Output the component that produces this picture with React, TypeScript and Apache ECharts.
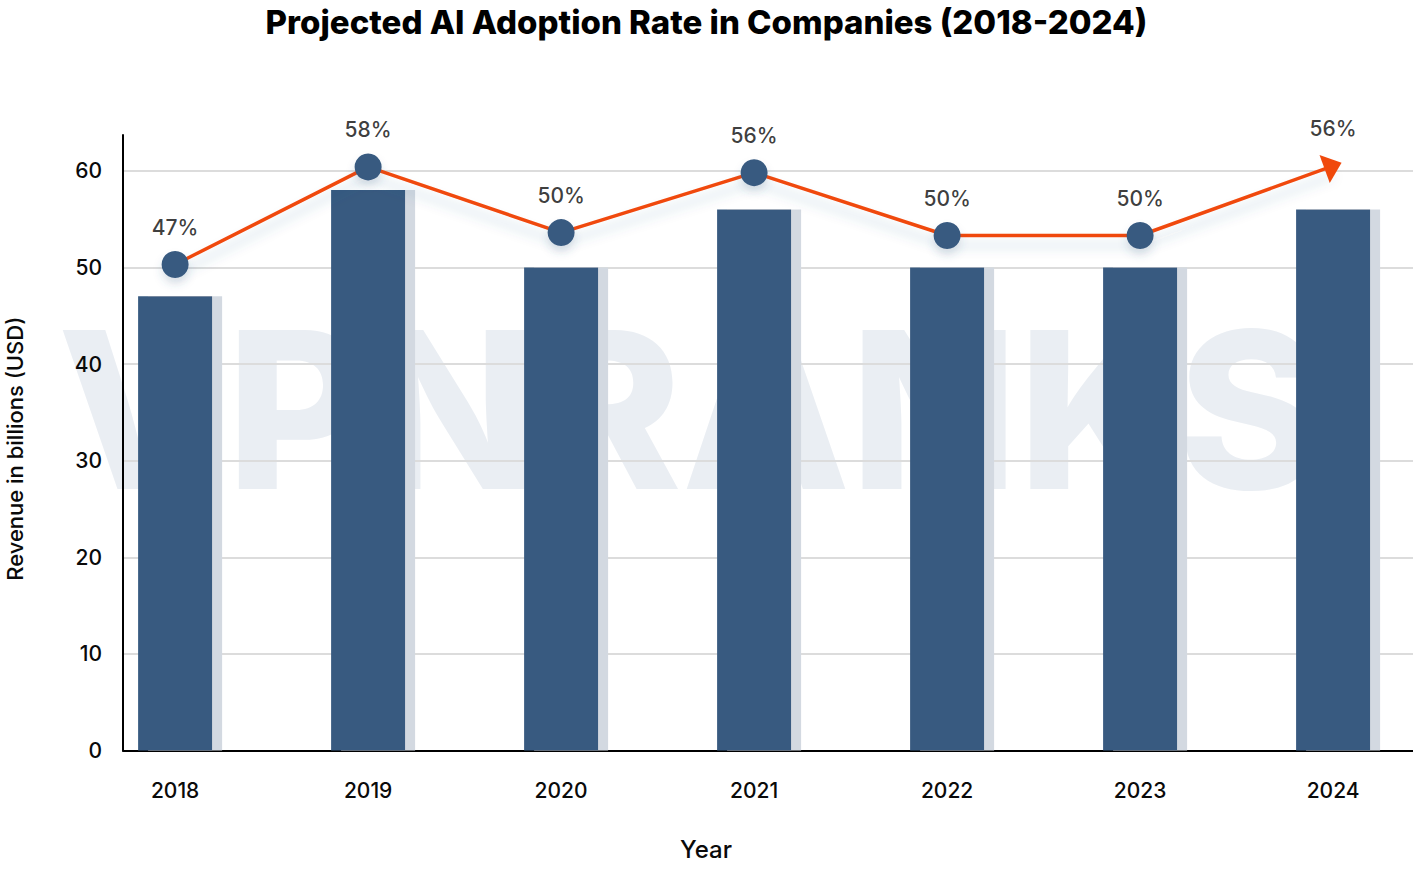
import React, { useEffect, useRef } from 'react';
import * as echarts from 'echarts';

const FONT = 'Inter, "Noto Sans", sans-serif';

const years = ['2018', '2019', '2020', '2021', '2022', '2023', '2024'];
const revenue = [47, 58, 50, 56, 50, 50, 56];
const adoptionLinePos = [50.3, 60.4, 53.6, 59.8, 53.3, 53.3, 60.5];
const adoptionLabels = ['47%', '58%', '50%', '56%', '50%', '50%', '56%'];
const xTickValues = [0, 1, 2, 3, 4, 5, 6];

const BAR = '#375a80';
const ORANGE = '#f0490c';
const TEXT = '#0a0a0a';

export default function App() {
  const ref = useRef<HTMLDivElement>(null);
  useEffect(() => {
    document.body.style.margin = '0';
    const chart = echarts.init(ref.current!, null, { renderer: 'svg' });
    const last = years.length - 1;
    chart.setOption({
      animation: false,
      backgroundColor: '#ffffff',
      title: {
        text: 'Projected AI Adoption Rate in Companies (2018-2024)',
        left: 'center',
        top: 0,
        textStyle: { fontFamily: FONT, fontSize: 33, fontWeight: 800, color: '#000' },
      },
      graphic: [
        {
          type: 'text',
          z: -10,
          silent: true,
          style: {
            text: 'VPNRANKS',
            x: 690,
            y: 409,
            align: 'center',
            verticalAlign: 'middle',
            fontFamily: FONT,
            fontWeight: 800,
            fontSize: 219,
            fill: '#eaeef3',
          },
        },
      ],
      grid: {
        left: 123,
        right: 0,
        top: 135,
        bottom: 123.5,
        containLabel: false,
        outerBoundsMode: 'none',
      },
      xAxis: {
        type: 'value',
        min: -0.27,
        max: 6.414,
        axisLine: { show: true, onZero: false, lineStyle: { color: '#000', width: 2 } },
        axisTick: { show: false },
        splitLine: { show: false },
        axisLabel: {
          customValues: xTickValues,
          formatter: (v: number) => years[Math.round(v)] ?? '',
          fontFamily: FONT,
          fontSize: 21,
          fontWeight: 500,
          color: TEXT,
          margin: 29,
        },
        name: 'Year',
        nameLocation: 'middle',
        nameGap: 87,
        nameTextStyle: { fontFamily: FONT, fontSize: 24, fontWeight: 500, color: TEXT, padding: [0, 124, 0, 0] },
      },
      yAxis: {
        type: 'value',
        min: 0,
        max: 63.7,
        interval: 10,
        axisLine: { show: true, onZero: false, lineStyle: { color: '#000', width: 2 } },
        axisTick: { show: false },
        splitLine: { show: true, showMaxLine: false, showMinLine: false, lineStyle: { color: '#dcdcdc', width: 2 } },
        axisLabel: {
          showMaxLabel: false,
          fontFamily: FONT,
          fontSize: 21,
          fontWeight: 500,
          color: TEXT,
          margin: 21,
          padding: [0, 0, 4, 0],
        },
        name: 'Revenue in billions (USD)',
        nameLocation: 'middle',
        nameGap: 97,
        nameRotate: 90,
        nameTextStyle: { fontFamily: FONT, fontSize: 22, fontWeight: 500, color: TEXT, padding: [0, 12, 0, 0] },
      },
      series: [
        {
          type: 'bar',
          name: 'Revenue',
          data: revenue.map((v, i) => [i, v]),
          barWidth: 74,
          z: 2,
          itemStyle: {
            color: BAR,
            shadowColor: '#d3d9e1',
            shadowOffsetX: 10,
            shadowOffsetY: 0,
            shadowBlur: 0,
          },
        },
        {
          type: 'line',
          name: 'Adoption',
          z: 3,
          data: adoptionLinePos.map((v, i) =>
            i === last
              ? {
                  value: [i, v],
                  symbol: 'triangle',
                  symbolSize: [30, 18],
                  symbolRotate: -70,
                  itemStyle: { color: ORANGE, shadowBlur: 0, shadowOffsetY: 0, shadowColor: 'rgba(0,0,0,0)' },
                }
              : { value: [i, v] }
          ),
          symbol: 'circle',
          symbolSize: 27,
          showAllSymbol: true,
          lineStyle: {
            color: ORANGE,
            width: 3.5,
            shadowColor: 'rgba(55,90,128,0.22)',
            shadowBlur: 12,
            shadowOffsetY: 10,
          },
          itemStyle: {
            color: BAR,
            shadowColor: 'rgba(55,90,128,0.18)',
            shadowBlur: 8,
            shadowOffsetY: 6,
          },
        },
        {
          type: 'scatter',
          name: 'Labels',
          z: 4,
          silent: true,
          symbolSize: 27,
          itemStyle: { color: 'rgba(0,0,0,0)' },
          data: adoptionLinePos.map((v, i) => [i, v]),
          label: {
            show: true,
            position: 'top',
            distance: 13,
            fontFamily: FONT,
            fontSize: 21,
            fontWeight: 500,
            color: TEXT,
            formatter: (p: any) => adoptionLabels[p.dataIndex],
          },
        },
      ],
    });
    return () => chart.dispose();
  }, []);
  return <div ref={ref} style={{ width: 1413, height: 874 }} />;
}
